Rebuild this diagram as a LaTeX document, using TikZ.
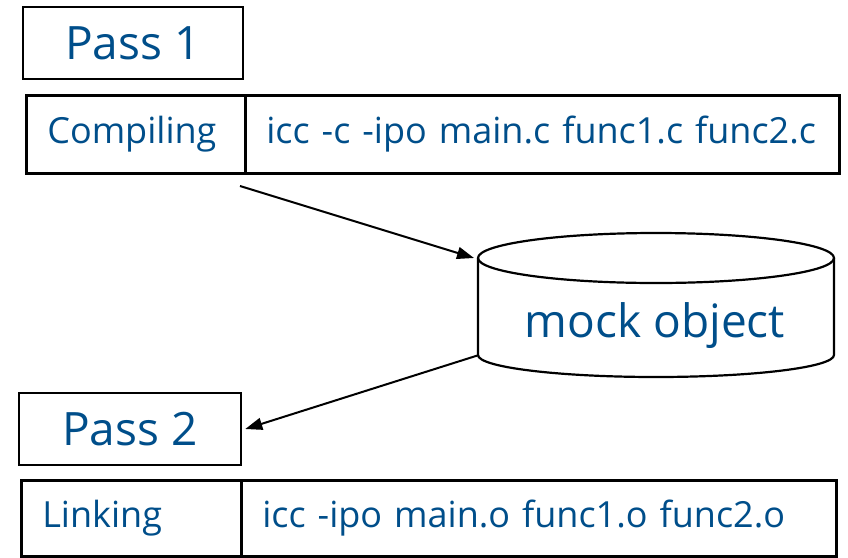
\documentclass[tikz,border=0pt]{standalone}
\usepackage{fontspec}
\setmainfont{Open Sans}
\usetikzlibrary{arrows.meta}
\definecolor{labelblue}{RGB}{0,78,138}
\begin{document}
\begin{tikzpicture}[x=1pt,y=-1pt,
  box/.style={draw=black, line width=2.6pt, rectangle, inner sep=0pt, text=labelblue},
  passbox/.style={box, minimum width=#1, minimum height=72pt, font=\fontsize{46}{52}\selectfont},
  cell/.style={box, anchor=north west, inner xsep=21pt, minimum height=78pt, align=left,
    font=\fontsize{36}{42}\selectfont},
  link/.style={-{Triangle[length=17pt,width=12pt]}, line width=2pt}
]
\useasboundingbox (0,0) rectangle (848,557);

% first pass: compile step
\node[passbox=220pt] (pass1) at (133,43) {Pass 1};
\node[cell, minimum width=219pt, text width=177pt] (compile) at (25,94) {Compiling};
\node[cell, minimum width=594pt, text width=552pt] (compilecmd) at (244,94) {icc -c -ipo main.c func1.c func2.c};

% intermediate mock object (cylinder)
\draw[line width=2.2pt] (478,258) -- (478,355)
  arc[start angle=180, end angle=360, x radius=178pt, y radius=22pt] -- (834,258);
\draw[line width=2.2pt] (656,258) ellipse [x radius=178pt, y radius=25pt];
\node[text=labelblue, anchor=base, font=\fontsize{46}{52}\selectfont] (mock) at (655,337) {mock object};
\coordinate (mockin) at (474,258);
\coordinate (mockout) at (479,355);
\coordinate (compileout) at (240,186);

% second pass: link step
\node[passbox=222pt] (pass2) at (130,429) {Pass 2};
\node[cell, minimum width=220pt, text width=178pt, minimum height=76pt] (linking) at (20,479) {Linking};
\node[cell, minimum width=595pt, text width=553pt, minimum height=76pt] (linkcmd) at (240,479) {icc -ipo main.o func1.o func2.o};

% data flow
\draw[link] (compileout) -- (mockin);
\draw[link] (mockout) -- ([xshift=3pt]pass2.east);
\end{tikzpicture}
\end{document}
